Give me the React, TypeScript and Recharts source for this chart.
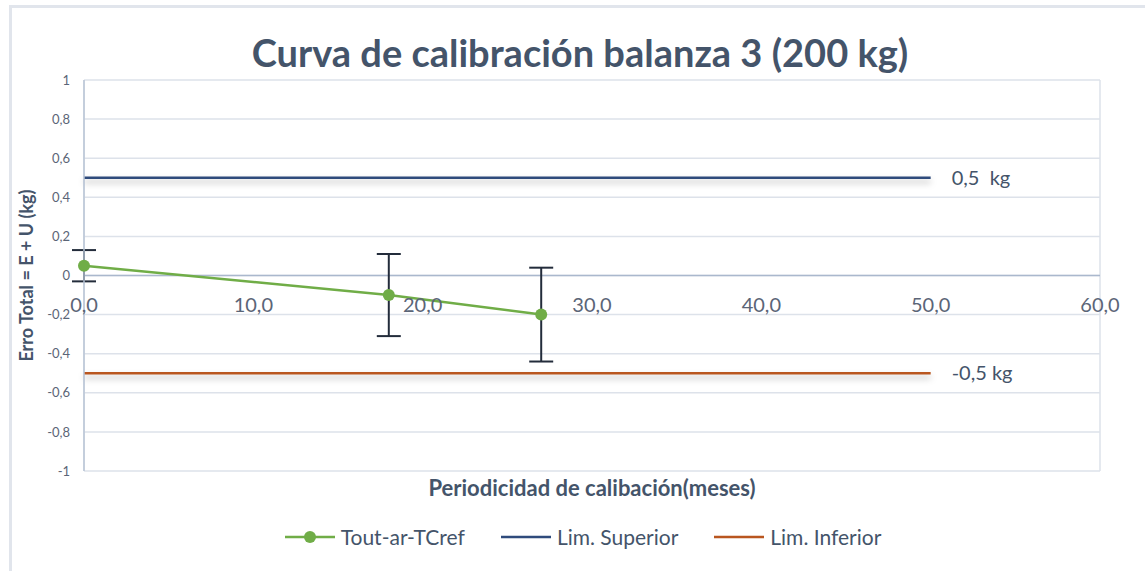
import {
  ComposedChart,
  Line,
  XAxis,
  YAxis,
  CartesianGrid,
  ReferenceLine,
  ReferenceDot,
  ErrorBar,
  Legend,
} from "recharts"

const months = [0, 18, 27]
const errorTotal = [0.05, -0.1, -0.2]
const uncertainty = [0.08, 0.21, 0.24]
const limitMonths = [0, 50]
const upperLimit = [0.5, 0.5]
const lowerLimit = [-0.5, -0.5]
const xTicks = [0, 10, 20, 30, 40, 50, 60]
const yTicks = [-1, -0.8, -0.6, -0.4, -0.2, 0, 0.2, 0.4, 0.6, 0.8, 1]

const FONT = "Lato, 'Open Sans', sans-serif"
const TEXT = "#44546a"
const GREEN = "#70ad47"
const NAVY = "#2f4b7c"
const ORANGE = "#b9561f"

const measured = months.map((m, i) => ({ x: m, y: errorTotal[i], err: uncertainty[i] }))
const upperData = limitMonths.map((m, i) => ({ x: m, y: upperLimit[i] }))
const lowerData = limitMonths.map((m, i) => ({ x: m, y: lowerLimit[i] }))

const comma = (v: number) => String(v).replace(".", ",")

function LegendBox() {
  const items = [
    { name: "Tout-ar-TCref", color: GREEN, dot: true },
    { name: "Lim. Superior", color: NAVY, dot: false },
    { name: "Lim. Inferior", color: ORANGE, dot: false },
  ]
  return (
    <div style={{ display: "flex", justifyContent: "center", gap: 35, fontFamily: FONT, fontSize: 21, color: TEXT, paddingLeft: 20 }}>
      {items.map((it) => (
        <div key={it.name} style={{ display: "flex", alignItems: "center" }}>
          <svg width={52} height={14} style={{ marginRight: 5 }}>
            <line x1={1} y1={7} x2={51} y2={7} stroke={it.color} strokeWidth={2.5} />
            {it.dot && <circle cx={26} cy={7} r={6} fill={it.color} />}
          </svg>
          <span>{it.name}</span>
        </div>
      ))}
    </div>
  )
}

export default function App() {
  return (
    <div style={{ position: "absolute", left: 0, top: 0, width: 1145, height: 571, background: "#fff" }}>
      <style>{`.limit .recharts-line-curve { filter: drop-shadow(0px 4px 3px rgba(0,0,0,0.28)); }
.meas .recharts-line-dots circle { filter: drop-shadow(0px 2px 2px rgba(0,0,0,0.25)); }`}</style>
      <div style={{ position: "absolute", left: 9, top: 5, right: 0, bottom: 0, borderTop: "3px solid #e1e5ec", borderLeft: "3px solid #e1e5ec" }} />
      <div
        style={{
          position: "absolute",
          top: 30,
          left: 0,
          width: 1160,
          textAlign: "center",
          fontFamily: FONT,
          fontWeight: 700,
          fontSize: 38,
          lineHeight: "44px",
          color: TEXT,
        }}
      >
        Curva de calibración balanza 3 (200 kg)
      </div>
      <ComposedChart width={1145} height={571} margin={{ top: 80, right: 45, left: 0, bottom: 70 }}>
        <CartesianGrid stroke="#dde2ea" strokeWidth={1.5} />
        <XAxis
          dataKey="x"
          type="number"
          domain={[0, 60]}
          ticks={xTicks}
          tick={false}
          tickLine={false}
          axisLine={false}
          height={30}
          label={{
            value: "Periodicidad de calibación(meses)",
            position: "insideTop",
            offset: 9,
            fill: TEXT,
            fontFamily: FONT,
            fontWeight: 700,
            fontSize: 22,
          }}
        />
        <YAxis
          type="number"
          domain={[-1, 1]}
          ticks={yTicks}
          tickFormatter={comma}
          width={84}
          tickLine={false}
          tickMargin={8}
          axisLine={{ stroke: "#b8c4d6", strokeWidth: 1.5 }}
          tick={{ fill: "#5b6577", fontSize: 13, fontFamily: FONT }}
          label={{
            value: "Erro Total = E + U (kg)",
            angle: -90,
            position: "insideLeft",
            offset: 27,
            fill: TEXT,
            fontFamily: FONT,
            fontWeight: 700,
            fontSize: 18,
            style: { textAnchor: "middle" },
          }}
        />
        <ReferenceLine y={0} stroke="#aab8cd" strokeWidth={1.5} />
        {xTicks.map((t) => (
          <ReferenceDot
            key={t}
            x={t}
            y={0}
            r={0}
            fill="none"
            stroke="none"
            ifOverflow="visible"
            label={{ value: t.toFixed(1).replace(".", ","), position: "bottom", offset: 22, fill: "#5b6577", fontSize: 20, fontFamily: FONT }}
          />
        ))}
        <Line
          className="limit"
          data={upperData}
          dataKey="y"
          stroke={NAVY}
          strokeWidth={2.5}
          dot={false}
          isAnimationActive={false}
        />
        <Line
          className="limit"
          data={lowerData}
          dataKey="y"
          stroke={ORANGE}
          strokeWidth={2.5}
          dot={false}
          isAnimationActive={false}
        />
        <Line
          className="meas"
          data={measured}
          dataKey="y"
          stroke={GREEN}
          strokeWidth={2.5}
          dot={{ r: 6, fill: GREEN, stroke: "none" }}
          isAnimationActive={false}
        >
          <ErrorBar dataKey="err" direction="y" width={12} stroke="#232c3b" strokeWidth={2} />
        </Line>
        <ReferenceDot
          x={50}
          y={0.5}
          r={0}
          fill="none"
          stroke="none"
          ifOverflow="visible"
          label={{ value: "0,5\u00a0 kg", position: "right", offset: 21, fill: TEXT, fontSize: 20, fontFamily: FONT }}
        />
        <ReferenceDot
          x={50}
          y={-0.5}
          r={0}
          fill="none"
          stroke="none"
          ifOverflow="visible"
          label={{ value: "-0,5 kg", position: "right", offset: 21, fill: TEXT, fontSize: 20, fontFamily: FONT }}
        />
        <Legend
          layout="horizontal"
          verticalAlign="middle"
          align="center"
          wrapperStyle={{ top: 524, left: 0, width: 1145 }}
          content={() => <LegendBox />}
        />
      </ComposedChart>
    </div>
  )
}
